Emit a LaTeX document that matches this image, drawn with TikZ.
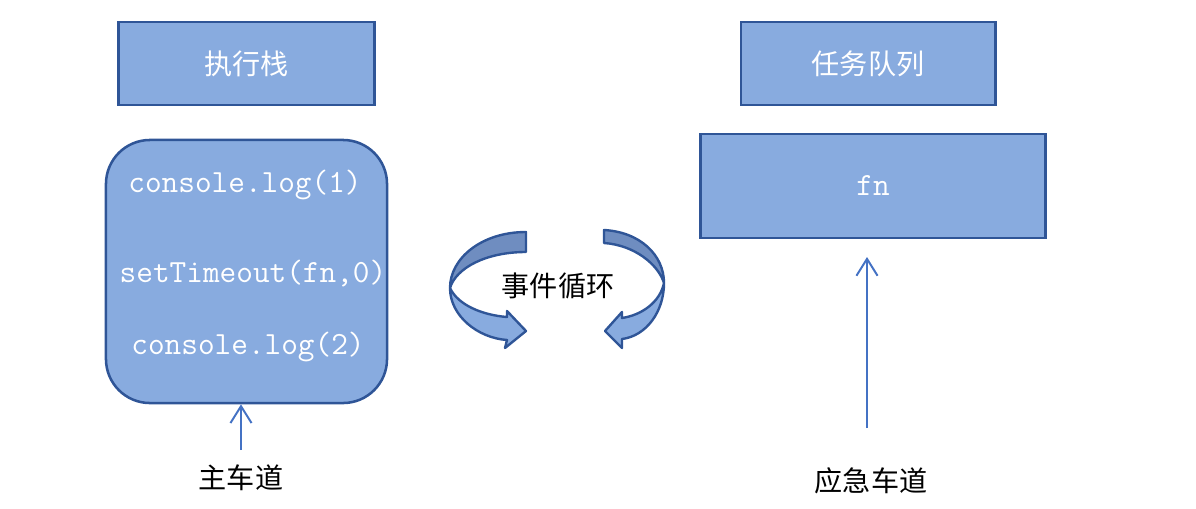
\documentclass[tikz,border=0pt]{standalone}
\usepackage{fontspec}
\newfontfamily\cjk{Noto Sans CJK SC}
\usetikzlibrary{arrows.meta,positioning}
\definecolor{boxfill}{HTML}{88ABDF}
\definecolor{boxline}{HTML}{2F5597}
\definecolor{backfill}{HTML}{6F8DC0}
\definecolor{lineblue}{HTML}{4472C4}
\tikzset{titlebox/.style={draw=boxline, fill=boxfill, line width=2.1pt, minimum width=6.35cm, minimum height=2.075cm, font=\cjk\fontsize{20}{24}\selectfont, text=white}, stackbox/.style={draw=boxline, fill=boxfill, line width=1.8pt, rounded corners=1.1cm, minimum width=7.025cm, minimum height=6.575cm}, code/.style={font=\ttfamily\fontsize{23}{27}\selectfont, text=white}, lab/.style={font=\cjk\fontsize{20}{24}\selectfont, text=black}, lane/.style={-{Straight Barb[length=12pt,width=15pt]}, line width=1.4pt, color=lineblue}, loopband/.style={draw=boxline, line width=1.7pt, line join=round}}

\begin{document}
\begin{tikzpicture}[x=0.025cm, y=-0.025cm]
\useasboundingbox (0,0) rectangle (1196,508);
\node[titlebox, minimum width=6.375cm] (stackTitle) at (246.5,63.5) {执行栈};
\node[titlebox] (queueTitle) at (868,63.5) {任务队列};
\node[stackbox] (stack) at (246.5,271.5) {};
\node[code] (logOne) at (245,185) {console.log(1)};
\node[code] (timer) at (253,274) {setTimeout(fn,0)};
\node[code] (logTwo) at (248,347) {console.log(2)};
\node[draw=boxline, fill=boxfill, line width=2.1pt, minimum width=8.6cm, minimum height=2.6cm, code] (queue) at (873,186) {fn};
\node[lab] (loop) at (558,286) {事件循环};
\node[lab] (mainLane) at (241,478) {主车道};
\node[lab] (fastLane) at (871,481) {应急车道};
\coordinate (mainTail) at (241,450);
\coordinate (fastTail) at (867,428);
\coordinate (fastTip) at (867,257);
\draw[lane] (mainTail) -- (stack.south -| mainTail);
\draw[lane] (fastTail) -- (fastTip);
% left turn
\filldraw[loopband, fill=backfill] (526,232) .. controls (482,232) and (450,258) .. (450,288) .. controls (456,268) and (486,252) .. (526,252) -- cycle;
\filldraw[loopband, fill=boxfill] (450,288) .. controls (450,316) and (478,338) .. (507,340) -- (505,348) -- (526,331) -- (507,311) -- (507,317) .. controls (482,315) and (458,305) .. (450,288) -- cycle;
% right turn
\filldraw[loopband, fill=backfill] (604,230) .. controls (640,232) and (664,255) .. (664,283) .. controls (658,264) and (634,245) .. (604,243) -- cycle;
\filldraw[loopband, fill=boxfill] (664,283) .. controls (664,312) and (646,336) .. (622,339) -- (622,348) -- (605,331) -- (622,312) -- (622,318) .. controls (642,315) and (660,302) .. (664,283) -- cycle;
\end{tikzpicture}
\end{document}
